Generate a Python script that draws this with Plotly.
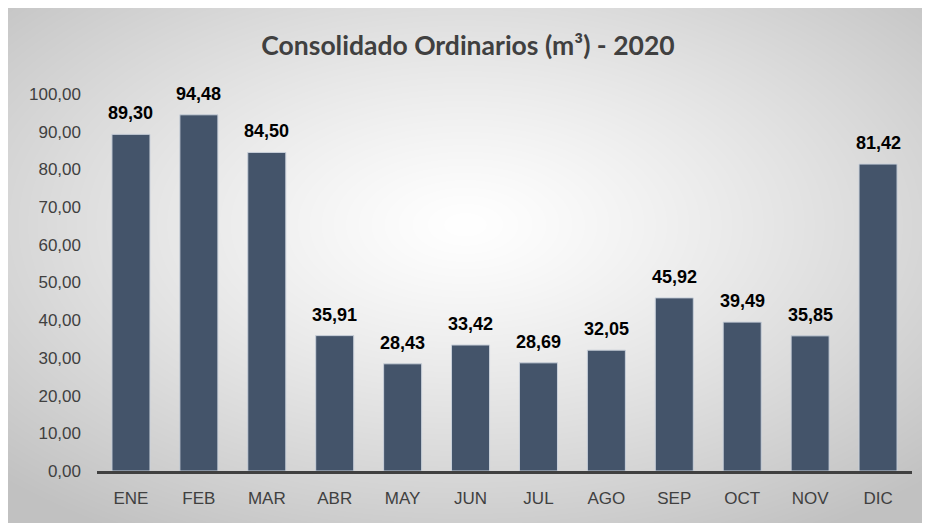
import base64
import struct
import zlib

import numpy as np
import plotly.graph_objects as go

meses = ["ENE", "FEB", "MAR", "ABR", "MAY", "JUN", "JUL", "AGO", "SEP", "OCT", "NOV", "DIC"]
volumen = [89.30, 94.48, 84.50, 35.91, 28.43, 33.42, 28.69, 32.05, 45.92, 39.49, 35.85, 81.42]
y_ticks = list(range(0, 101, 10))

# la pagina deja 8px de margen en el body; la figura se sale un poco por la derecha
W, H = 930, 515
L, R, T, B = 89, 26, 86, 52


def fondo_radial(w, h):
    # gradiente radial gris -> blanco, como el fondo de Excel
    yy, xx = np.mgrid[0:h, 0:w]
    cx, cy = 457, h * 0.42
    d = np.sqrt(((xx - cx) / (w / 2)) ** 2 + ((yy - cy) / (h / 2)) ** 2) / np.sqrt(2)
    d = np.clip(d, 0, 1)
    v = (255 - 62 * d ** 1.2).astype(np.uint8)
    raw = b"".join(b"\x00" + np.repeat(row[:, None], 3, axis=1).tobytes() for row in v)

    def chunk(tag, data):
        c = struct.pack(">I", len(data)) + tag + data
        return c + struct.pack(">I", zlib.crc32(tag + data) & 0xffffffff)

    png = b"\x89PNG\r\n\x1a\n"
    png += chunk(b"IHDR", struct.pack(">IIBBBBB", w, h, 8, 2, 0, 0, 0))
    png += chunk(b"IDAT", zlib.compress(raw, 9))
    png += chunk(b"IEND", b"")
    return "data:image/png;base64," + base64.b64encode(png).decode()


fig = go.Figure()
fig.add_trace(go.Bar(
    x=meses, y=volumen,
    marker=dict(color="#44546A", line=dict(color="#c9d0da", width=1)),
    width=0.56,
    hoverinfo="x+y",
))

for m, v in zip(meses, volumen):
    fig.add_annotation(x=m, y=v, text="<b>%s</b>" % f"{v:.2f}".replace(".", ","),
                       showarrow=False, yanchor="bottom", yshift=9,
                       font=dict(size=18, color="#000000", family="Liberation Sans, Arial"))

fig.add_layout_image(
    source=fondo_radial(W, H),
    xref="paper", yref="paper",
    x=-L / (W - L - R), y=(H - B) / (H - T - B),
    sizex=W / (W - L - R), sizey=H / (H - T - B),
    xanchor="left", yanchor="top", sizing="stretch", layer="below",
)

fig.update_layout(
    width=W, height=H,
    margin=dict(l=L, r=R, t=T, b=B, autoexpand=False),
    paper_bgcolor="white",
    plot_bgcolor="rgba(0,0,0,0)",
    separators=",.",
    showlegend=False,
    title=dict(text="<b>Consolidado Ordinarios (m³) - 2020</b>", x=(468 - 8) / W, xref="container",
               y=1 - 38 / H, yanchor="middle", xanchor="center",
               font=dict(size=26.5, color="#404040", family="Lato, Open Sans, sans-serif")),
    font=dict(family="Liberation Sans, Arial", size=17, color="#404040"),
)
fig.update_xaxes(showline=True, linecolor="#404040", linewidth=2.5, ticks="", automargin=False,
                 showgrid=False, ticklabelstandoff=10, tickfont=dict(size=17))
fig.update_yaxes(range=[0, 100], tickvals=y_ticks, tickformat=".2f", showgrid=False, automargin=False,
                 zeroline=False, showline=False, ticks="", ticklabelstandoff=15,
                 tickfont=dict(size=17))

fig.write_html("out.html")
